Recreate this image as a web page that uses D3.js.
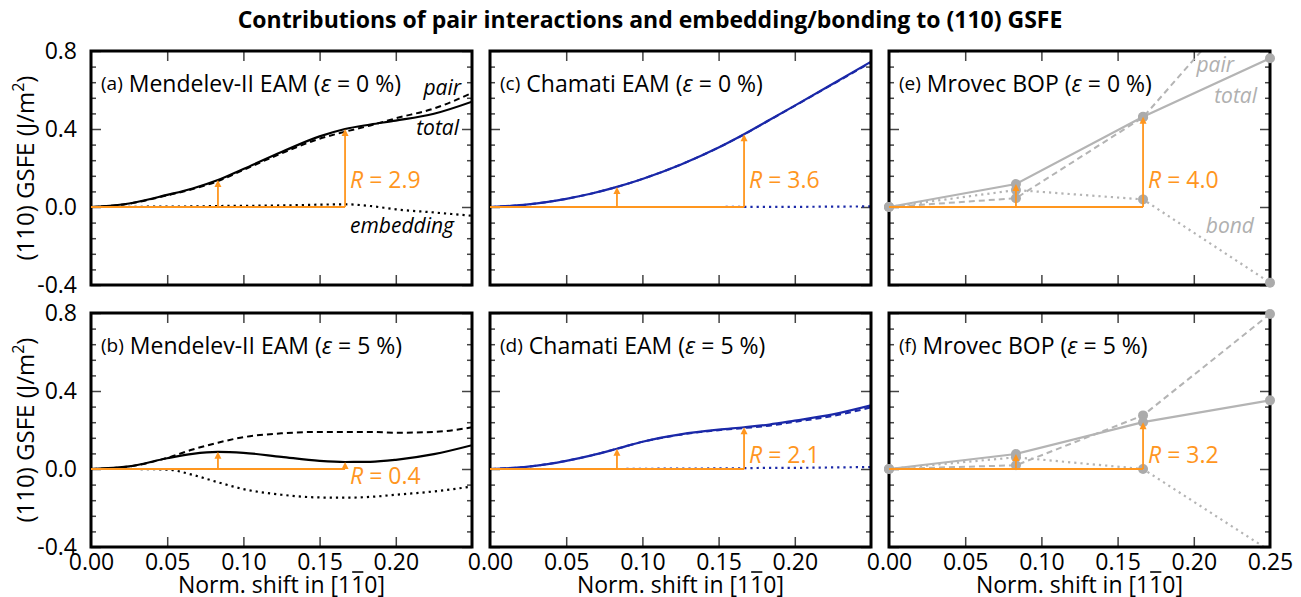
<!DOCTYPE html>
<html>
<head>
<meta charset="utf-8">
<script src="https://cdn.jsdelivr.net/npm/d3@7"></script>
<style>
  body { margin: 0; background: #fff; }
  svg { font-family: "Open Sans", sans-serif; }
</style>
</head>
<body>
<svg id="chart" width="1301" height="597"></svg>
<script>
// ---- data ----
const shiftEam = [0, 0.025, 0.05, 0.0667, 0.0833, 0.1, 0.125, 0.15, 0.1667, 0.1833, 0.2, 0.225, 0.25];
const shiftBop = [0, 0.0833, 0.1667, 0.25];

// Mendelev-II EAM, strain 0 %
const mend0Total = [0, 0.018, 0.062, 0.095, 0.138, 0.195, 0.282, 0.362, 0.400, 0.423, 0.443, 0.478, 0.540];
const mend0Pair  = [0, 0.017, 0.060, 0.092, 0.133, 0.190, 0.275, 0.350, 0.386, 0.418, 0.455, 0.505, 0.585];
const mend0Embed = [0, 0.001, 0.002, 0.003, 0.005, 0.006, 0.008, 0.012, 0.014, 0.005, -0.012, -0.028, -0.045];

// Mendelev-II EAM, strain 5 %
const mend5Total = [0, 0.013, 0.055, 0.078, 0.088, 0.083, 0.062, 0.042, 0.036, 0.037, 0.047, 0.076, 0.122];
const mend5Pair  = [0, 0.013, 0.057, 0.100, 0.135, 0.163, 0.183, 0.190, 0.190, 0.190, 0.186, 0.190, 0.214];
const mend5Embed = [0, 0, -0.003, -0.030, -0.068, -0.103, -0.132, -0.146, -0.147, -0.143, -0.132, -0.115, -0.090];

// Chamati EAM, strain 0 %
const cham0Total = [0, 0.013, 0.042, 0.069, 0.103, 0.144, 0.217, 0.305, 0.373, 0.446, 0.520, 0.632, 0.745];
const cham0Pair  = [0, 0.013, 0.042, 0.069, 0.103, 0.144, 0.217, 0.305, 0.372, 0.445, 0.519, 0.630, 0.742];
const cham0Embed = [0, 0, 0, 0, 0, 0, 0, 0, 0.001, 0.001, 0.001, 0.002, 0.003];

// Chamati EAM, strain 5 %
const cham5Total = [0, 0.012, 0.042, 0.070, 0.104, 0.140, 0.178, 0.202, 0.214, 0.228, 0.248, 0.280, 0.326];
const cham5Pair  = [0, 0.012, 0.042, 0.070, 0.104, 0.139, 0.176, 0.199, 0.210, 0.222, 0.242, 0.272, 0.316];
const cham5Embed = [0, 0, 0, 0, 0, 0.001, 0.002, 0.003, 0.004, 0.006, 0.006, 0.008, 0.010];

// Mrovec BOP
const mrov0Total = [0, 0.118, 0.463, 0.763];
const mrov0Pair  = [0, 0.045, 0.460, 1.200];
const mrov0Bond  = [0, 0.087, 0.039, -0.388];
const mrov5Total = [0, 0.077, 0.240, 0.352];
const mrov5Pair  = [0, 0.019, 0.275, 0.795];
const mrov5Bond  = [0, 0.060, 0.000, -0.420];

const rValues = ["2.9", "0.4", "3.6", "2.1", "4.0", "3.2"];
const arrowShifts = [0.0833, 0.1667];

const yMajor = [-0.4, 0, 0.4, 0.8];
const yMinor = d3.range(-0.4, 0.81, 0.08).filter(v => Math.abs(v / 0.4 - Math.round(v / 0.4)) > 1e-6);
const xMajor = [0.05, 0.1, 0.15, 0.2];
const xLabels = [0, 0.05, 0.1, 0.15, 0.2];
const xLabelsLast = [0, 0.05, 0.1, 0.15, 0.2, 0.25];

// ---- layout ----
const W = 381, H = 234;
const colX = [91, 490, 889];
const rowY = [51, 313];
const orange = "#ff961e";
const blue = "#1a28a8";
const grey = "#b4b4b4";

const panels = [
  { tag: "(a)", name: "Mendelev-II EAM", strain: "0", col: 0, row: 0, shift: shiftEam,
    total: mend0Total, pair: mend0Pair, other: mend0Embed, color: "#000", bop: false, r: rValues[0], rY: 0.097 },
  { tag: "(b)", name: "Mendelev-II EAM", strain: "5", col: 0, row: 1, shift: shiftEam,
    total: mend5Total, pair: mend5Pair, other: mend5Embed, color: "#000", bop: false, r: rValues[1], rY: -0.077 },
  { tag: "(c)", name: "Chamati EAM", strain: "0", col: 1, row: 0, shift: shiftEam,
    total: cham0Total, pair: cham0Pair, other: cham0Embed, color: blue, bop: false, r: rValues[2], rY: 0.097 },
  { tag: "(d)", name: "Chamati EAM", strain: "5", col: 1, row: 1, shift: shiftEam,
    total: cham5Total, pair: cham5Pair, other: cham5Embed, color: blue, bop: false, r: rValues[3], rY: 0.031 },
  { tag: "(e)", name: "Mrovec BOP", strain: "0", col: 2, row: 0, shift: shiftBop,
    total: mrov0Total, pair: mrov0Pair, other: mrov0Bond, color: grey, bop: true, r: rValues[4], rY: 0.097 },
  { tag: "(f)", name: "Mrovec BOP", strain: "5", col: 2, row: 1, shift: shiftBop,
    total: mrov5Total, pair: mrov5Pair, other: mrov5Bond, color: grey, bop: true, r: rValues[5], rY: 0.031 }
];

const svg = d3.select("#chart");

const x = d3.scaleLinear().domain([0, 0.25]).range([0, W]);
const y = d3.scaleLinear().domain([-0.4, 0.8]).range([H, 0]);

// title
svg.append("text")
  .attr("x", 650).attr("y", 28)
  .attr("text-anchor", "middle")
  .attr("font-size", 23).attr("font-weight", "bold")
  .text("Contributions of pair interactions and embedding/bonding to (110) GSFE");

panels.forEach((p, i) => {
  const g = svg.append("g").attr("transform", `translate(${colX[p.col]},${rowY[p.row]})`);

  g.append("clipPath").attr("id", "clip" + i)
    .append("rect").attr("width", W).attr("height", H);

  // inward ticks on all four sides
  const tickStyle = sel => {
    sel.select(".domain").remove();
    sel.selectAll("line").attr("stroke", "#444").attr("stroke-width", 1.5);
  };
  g.append("g").call(d3.axisRight(y).tickValues(yMajor).tickSize(10).tickFormat("")).call(tickStyle);
  g.append("g").call(d3.axisRight(y).tickValues(yMinor).tickSize(5).tickFormat("")).call(tickStyle);
  g.append("g").attr("transform", `translate(${W},0)`)
    .call(d3.axisLeft(y).tickValues(yMajor).tickSize(10).tickFormat("")).call(tickStyle);
  g.append("g").attr("transform", `translate(${W},0)`)
    .call(d3.axisLeft(y).tickValues(yMinor).tickSize(5).tickFormat("")).call(tickStyle);
  g.append("g").call(d3.axisBottom(x).tickValues(xMajor).tickSize(10).tickFormat("")).call(tickStyle);
  g.append("g").attr("transform", `translate(0,${H})`)
    .call(d3.axisTop(x).tickValues(xMajor).tickSize(10).tickFormat("")).call(tickStyle);

  // curves
  const line = d3.line()
    .x((d, j) => x(p.shift[j]))
    .y(d => y(d))
    .curve(p.bop ? d3.curveLinear : d3.curveMonotoneX);

  const curves = g.append("g").attr("clip-path", `url(#clip${i})`);
  curves.append("path").datum(p.other)
    .attr("d", line).attr("fill", "none").attr("stroke", p.color)
    .attr("stroke-width", 2.2).attr("stroke-dasharray", "2.2,4");
  curves.append("path").datum(p.pair)
    .attr("d", line).attr("fill", "none").attr("stroke", p.color)
    .attr("stroke-width", 2).attr("stroke-dasharray", "6,4");
  curves.append("path").datum(p.total)
    .attr("d", line).attr("fill", "none").attr("stroke", p.color)
    .attr("stroke-width", 2.2);

  // frame
  g.append("rect").attr("width", W).attr("height", H)
    .attr("fill", "none").attr("stroke", "#000").attr("stroke-width", 3);

  // BOP data points
  if (p.bop) {
    const pts = [];
    [p.other, p.pair, p.total].forEach(s => s.forEach((v, j) => {
      if (v <= 0.8 && v >= -0.4) pts.push([p.shift[j], v]);
    }));
    g.selectAll("circle.pt").data(pts).join("circle")
      .attr("class", "pt")
      .attr("cx", d => x(d[0])).attr("cy", d => y(d[1]))
      .attr("r", 5).attr("fill", "#ababab");
  }

  // orange ratio arrows
  const idx = arrowShifts.map(s => p.shift.findIndex(v => Math.abs(v - s) < 1e-4));
  g.append("line")
    .attr("x1", x(0)).attr("x2", x(arrowShifts[1]))
    .attr("y1", y(0)).attr("y2", y(0))
    .attr("stroke", orange).attr("stroke-width", 1.8);
  idx.forEach(j => {
    const xs = x(p.shift[j]), yt = y(p.total[j]), y0 = y(0);
    const dir = yt < y0 ? 1 : -1;
    g.append("line")
      .attr("x1", xs).attr("x2", xs).attr("y1", y0).attr("y2", yt + dir * 5)
      .attr("stroke", orange).attr("stroke-width", 1.8);
    g.append("path")
      .attr("d", `M${xs},${yt}L${xs - 3.5},${yt + dir * 7}L${xs + 3.5},${yt + dir * 7}Z`)
      .attr("fill", orange);
  });
  const rt = g.append("text")
    .attr("x", x(arrowShifts[1]) + 5).attr("y", y(p.rY))
    .attr("font-size", 23).attr("fill", orange);
  rt.append("tspan").attr("font-style", "italic").text("R");
  rt.append("tspan").text(" = " + p.r);

  // panel caption
  const cap = g.append("text").attr("x", 10).attr("y", 41).attr("font-size", 23);
  cap.append("tspan").attr("font-size", 19).attr("dy", -2).text(p.tag);
  cap.append("tspan").attr("dy", 2).text(" " + p.name + " (");
  cap.append("tspan").attr("font-style", "italic").text("ε");
  cap.append("tspan").text(" = " + p.strain + " %)");

  // y tick labels and axis title on the left column
  if (p.col === 0) {
    const ax = g.append("g")
      .call(d3.axisLeft(y).tickValues(yMajor).tickSize(0).tickPadding(14).tickFormat(d => d.toFixed(1)));
    ax.select(".domain").remove();
    ax.selectAll("text").attr("font-size", 23).attr("font-family", "Open Sans").attr("fill", "#000");
    const yl = svg.append("text")
      .attr("transform", `translate(34,${rowY[p.row] + H / 2}) rotate(-90)`)
      .attr("text-anchor", "middle").attr("font-size", 24);
    yl.append("tspan").text("(110) GSFE (J/m");
    yl.append("tspan").attr("font-size", 16).attr("dy", -10).text("2");
    yl.append("tspan").attr("dy", 10).text(")");
  }

  // x tick labels and axis title on the bottom row
  if (p.row === 1) {
    const ax = g.append("g").attr("transform", `translate(0,${H})`)
      .call(d3.axisBottom(x).tickValues(p.col === 2 ? xLabelsLast : xLabels)
        .tickSize(0).tickPadding(7).tickFormat(d3.format(".2f")));
    ax.select(".domain").remove();
    ax.selectAll("text").attr("font-size", 23).attr("font-family", "Open Sans").attr("fill", "#000");
    const xl = g.append("text")
      .attr("x", W / 2).attr("y", 280)
      .attr("text-anchor", "middle").attr("font-size", 23)
      .text("Norm. shift in [110]");
    // overbar on the second index
    const ext = xl.node().getExtentOfChar(17);
    g.append("line")
      .attr("x1", ext.x + 1).attr("x2", ext.x + ext.width - 1)
      .attr("y1", ext.y + 4).attr("y2", ext.y + 4)
      .attr("stroke", "#000").attr("stroke-width", 1.6);
  }

  // curve name labels
  const names = p.col === 0 && p.row === 0
    ? [["pair", 11, 0.574], ["total", 13, 0.369], ["embedding", 18, -0.133]]
    : p.col === 2 && p.row === 0
      ? [["pair", 36, 0.692], ["total", 13, 0.533], ["bond", 16, -0.133]]
      : [];
  names.forEach(([t, dx, v]) => {
    g.append("text")
      .attr("x", W - dx).attr("y", y(v))
      .attr("text-anchor", "end").attr("font-size", 21).attr("font-style", "italic")
      .attr("fill", p.bop ? "#b0b0b0" : "#000")
      .text(t);
  });
});
</script>
</body>
</html>
